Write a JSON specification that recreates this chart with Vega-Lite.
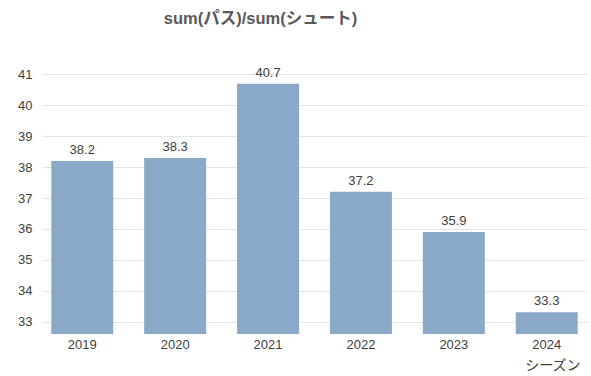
{
  "$schema": "https://vega.github.io/schema/vega-lite/v6.json",
  "autosize": "none",
  "width": 545,
  "height": 275,
  "padding": {"left": 42, "top": 59, "right": 4, "bottom": 42},
  "background": "white",
  "title": {
    "text": "sum(パス)/sum(シュート)",
    "anchor": "middle",
    "dx": -54,
    "offset": 32,
    "font": "Liberation Sans, Noto Sans CJK JP",
    "fontSize": 16.5,
    "fontWeight": "bold",
    "color": "#595959"
  },
  "config": {
    "view": {"stroke": null},
    "font": "Liberation Sans, Noto Sans CJK JP"
  },
  "data": {
    "values": [
      {"season": "2019", "ratio": 38.2},
      {"season": "2020", "ratio": 38.3},
      {"season": "2021", "ratio": 40.7},
      {"season": "2022", "ratio": 37.2},
      {"season": "2023", "ratio": 35.9},
      {"season": "2024", "ratio": 33.3}
    ]
  },
  "encoding": {
    "x": {
      "field": "season",
      "type": "nominal",
      "scale": {"paddingInner": 0.333, "paddingOuter": 0.1},
      "axis": {
        "title": "シーズン",
        "titleAnchor": "end",
        "titleX": 538,
        "titleAlign": "right",
        "titleFontWeight": "normal",
        "titleFontSize": 14,
        "titleColor": "#404040",
        "titlePadding": 7,
        "labelAngle": 0,
        "labelFontSize": 13,
        "labelColor": "#404040",
        "labelPadding": 4,
        "domain": false,
        "ticks": false
      }
    },
    "y": {
      "field": "ratio",
      "type": "quantitative",
      "scale": {"domain": [32.6, 41.5], "zero": false, "nice": false},
      "axis": {
        "title": null,
        "values": [33, 34, 35, 36, 37, 38, 39, 40, 41],
        "labelFontSize": 13,
        "labelColor": "#404040",
        "labelPadding": 10,
        "domain": false,
        "ticks": false,
        "gridColor": "#e4e4e4",
        "gridWidth": 1
      }
    }
  },
  "layer": [
    {
      "mark": {"type": "bar", "color": "#8aa9c8", "clip": true}
    },
    {
      "mark": {"type": "text", "baseline": "bottom", "dy": -4, "fontSize": 13, "color": "#404040"},
      "encoding": {
        "text": {"field": "ratio", "type": "quantitative", "format": ".1f"}
      }
    }
  ]
}
